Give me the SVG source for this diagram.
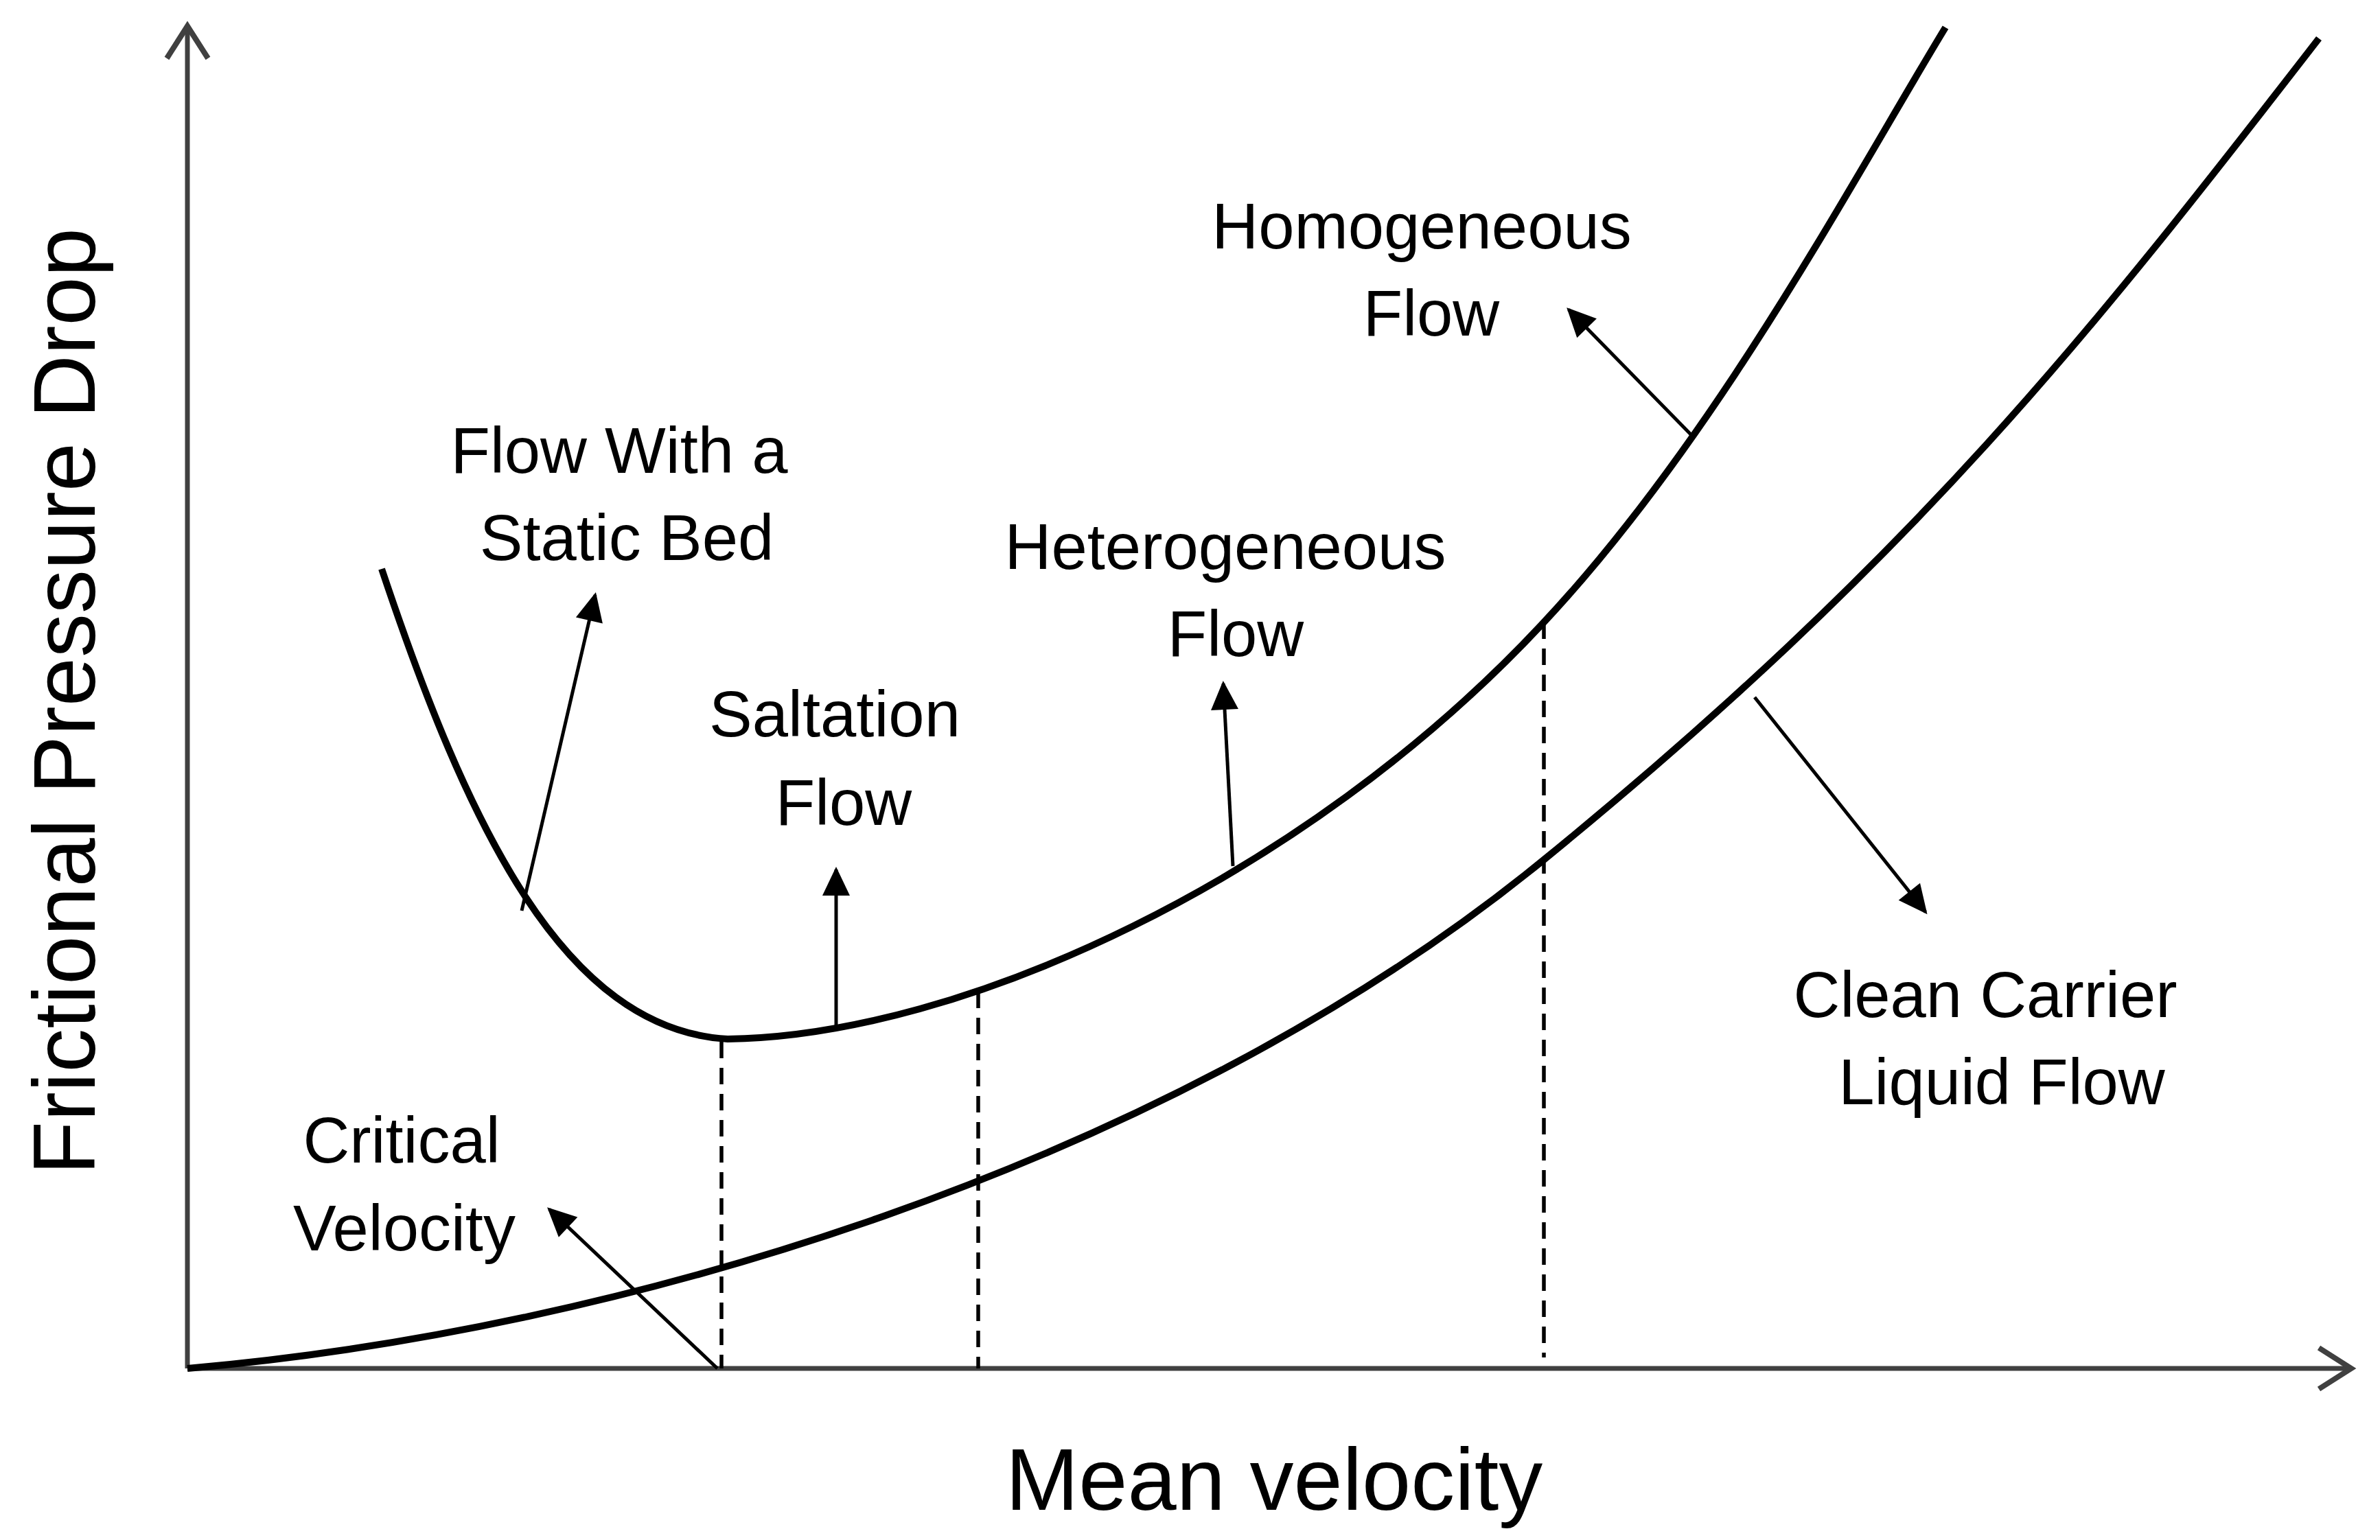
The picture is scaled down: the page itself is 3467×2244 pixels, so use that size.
<svg xmlns="http://www.w3.org/2000/svg" width="3467" height="2244" viewBox="0 0 3467 2244">
<style>
.t{font-family:"Liberation Sans",Arial,sans-serif;font-size:94px;fill:#000;text-anchor:middle}
.big{font-size:128px}
.ax{stroke:#404040;stroke-width:7;fill:none}
.cv{stroke:#000;stroke-width:10;fill:none}
.ar{stroke:#000;stroke-width:5;fill:none}
.ds{stroke:#000;stroke-width:5.5;stroke-dasharray:24,14;fill:none}
</style>
<defs>
<marker id="ah" markerWidth="80" markerHeight="80" refX="40" refY="40" markerUnits="userSpaceOnUse" orient="auto" overflow="visible">
<path d="M2,20 L44,40 L2,60 Z" fill="#000"/>
</marker>
<marker id="axh" markerWidth="90" markerHeight="90" refX="45" refY="45" markerUnits="userSpaceOnUse" orient="auto" overflow="visible">
<path d="M0,15 L47,45 L0,75" stroke="#404040" stroke-width="8" fill="none"/>
</marker>
</defs>
<g id="axes">
<path class="ax" d="M273,1994 L273,40" marker-end="url(#axh)"/>
<path class="ax" d="M273,1994 L3423,1994" marker-end="url(#axh)"/>
</g>
<g id="curves">
<path id="clean-curve" class="cv" d="M273,1994 C900,1940 1700,1700 2245,1256 S3050,480 3378,56"/>
<path id="slurry-curve" class="cv" d="M556,829 C680,1200 820,1500 1060,1514 C1400,1510 1900,1280 2245,911 C2500,640 2700,260 2834,40"/>
</g>
<g id="connectors">
<path class="ds" d="M1051,1518 L1051,1994"/>
<path class="ds" d="M1425,1445 L1425,1994"/>
<path class="ds" d="M2249,907 L2249,1978"/>
<path class="ar" d="M760,1327 L867,867" marker-end="url(#ah)"/>
<path class="ar" d="M1218,1494 L1218,1267" marker-end="url(#ah)"/>
<path class="ar" d="M1796,1262 L1782,996" marker-end="url(#ah)"/>
<path class="ar" d="M2463,633 L2285,451" marker-end="url(#ah)"/>
<path class="ar" d="M2556,1016 L2805,1329" marker-end="url(#ah)"/>
<path class="ar" d="M1045,1994 L800,1762" marker-end="url(#ah)"/>
</g>
<g id="labels">
<text class="t" x="2071" y="362">Homogeneous</text>
<text class="t" x="2085" y="489">Flow</text>
<text class="t" x="902" y="689">Flow With a</text>
<text class="t" x="913" y="816">Static Bed</text>
<text class="t" x="1785" y="829">Heterogeneous</text>
<text class="t" x="1800" y="956">Flow</text>
<text class="t" x="1216" y="1073">Saltation</text>
<text class="t" x="1229" y="1202">Flow</text>
<text class="t" x="2892" y="1482">Clean Carrier</text>
<text class="t" x="2916" y="1609">Liquid Flow</text>
<text class="t" x="585" y="1694">Critical</text>
<text class="t" x="589" y="1822">Velocity</text>
<text class="t big" x="1856" y="2200">Mean velocity</text>
<text class="t big" x="0" y="0" transform="translate(138,1022) rotate(-90)">Frictional Pressure Drop</text>
</g>
</svg>
